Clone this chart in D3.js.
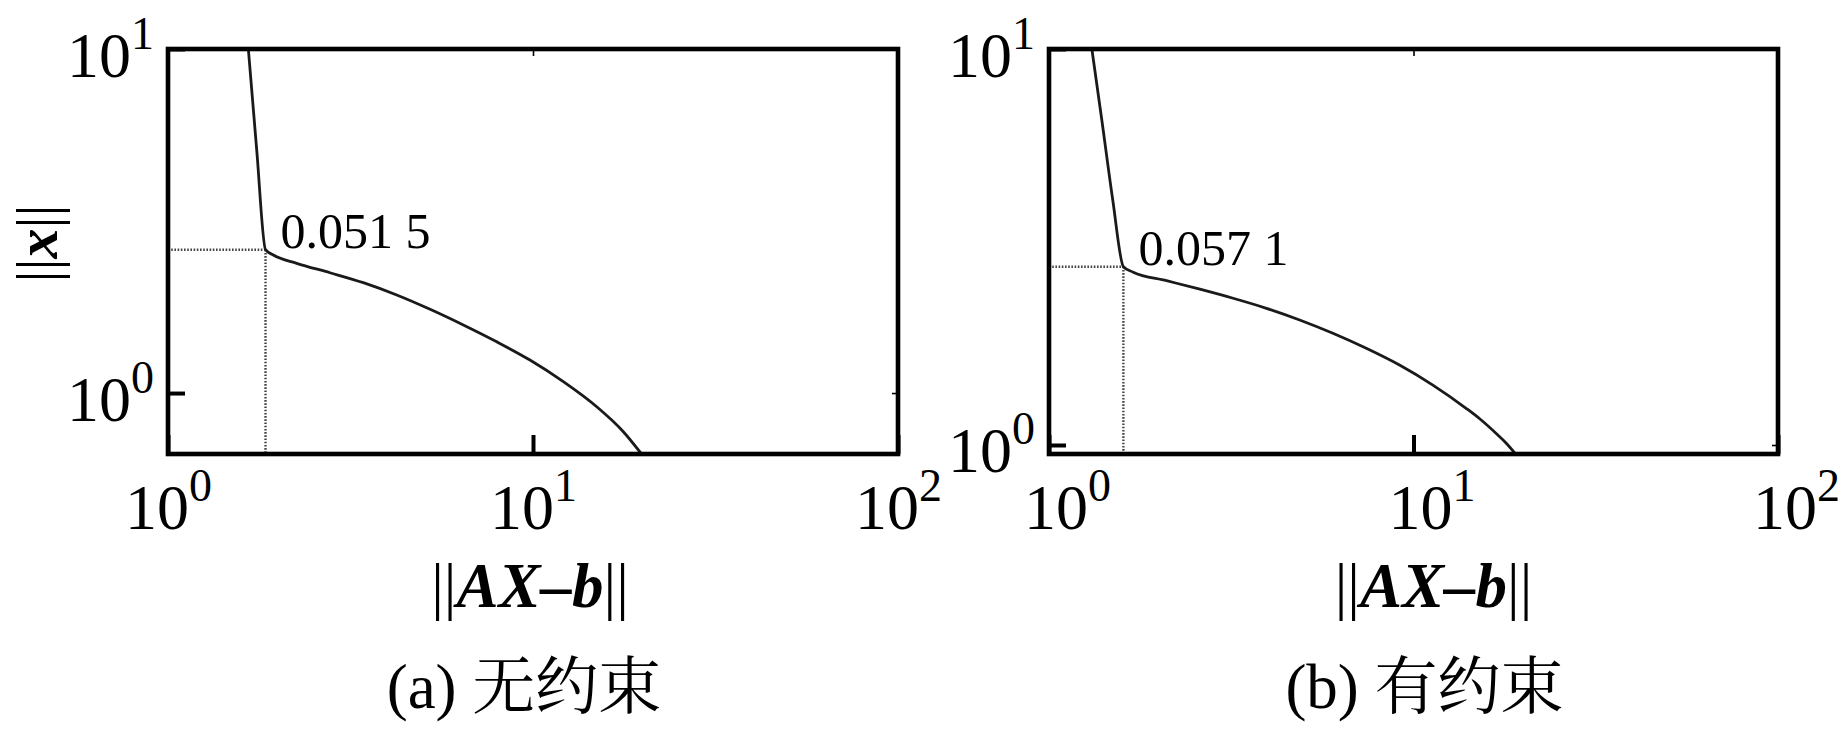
<!DOCTYPE html>
<html>
<head>
<meta charset="utf-8">
<script src="https://cdn.jsdelivr.net/npm/d3@7"></script>
<style>
  html, body { margin: 0; padding: 0; background: #fff; }
  svg { display: block; }
  text { font-family: "Liberation Serif", "Times New Roman", "Noto Serif CJK SC", "Noto Sans CJK SC", serif; fill: #000; }
</style>
</head>
<body>
<svg id="chart" width="1843" height="732"></svg>
<script>
// ---------------- data ----------------
const xTickValues = [1, 10, 100];
const yTickValues = [1, 10];
const panelCaptions = ["(a) 无约束", "(b) 有约束"];
const cornerLabels = ["0.051 5", "0.057 1"];
const xAxisTitle = ["AX", "–b"];
const yAxisTitle = "x";

// panel (a): residual norm ||AX-b|| and solution norm ||x||
const residualA = [1.66, 1.75, 1.85, 1.943, 2.252, 2.779, 3.428, 4.233, 5.224, 6.442, 7.954, 9.81, 12.11, 14.95, 17.68, 19.9];
const normA     = [10.0, 5.09, 2.61, 2.519, 2.383, 2.237, 2.093, 1.927, 1.751, 1.577, 1.409, 1.247, 1.079, 0.912, 0.772, 0.662];
const cornerA   = [1.85, 2.61];
const yDomainA  = [0.665, 10];

// panel (b)
const residualB = [1.311, 1.396, 1.496, 1.60, 1.702, 2.101, 2.593, 3.199, 3.949, 4.872, 6.010, 7.420, 9.153, 11.30, 13.94, 15.22, 16.92, 17.94, 19.1];
const normB     = [10.0, 6.62, 4.157, 2.82, 2.731, 2.600, 2.474, 2.347, 2.214, 2.069, 1.915, 1.755, 1.592, 1.417, 1.238, 1.163, 1.066, 1.012, 0.947];
const cornerB   = [1.60, 2.82];
const yDomainB  = [0.949, 10];

const xDomain = [1, 100];

// ---------------- layout ----------------
const svg = d3.select("#chart");
const plotTop = 49, plotBottom = 454;
const panels = [
  { x0: 168, x1: 898, res: residualA, nrm: normA, corner: cornerA, yDom: yDomainA,
    label: cornerLabels[0], caption: panelCaptions[0], yTitle: true,
    xLabDx: 0, titleDx: -3, capDx: -9 },
  { x0: 1049, x1: 1778, res: residualB, nrm: normB, corner: cornerB, yDom: yDomainB,
    label: cornerLabels[1], caption: panelCaptions[1], yTitle: false,
    xLabDx: 18, titleDx: 20, capDx: 11 }
];

const supLabel = (sel, base, exp, supSize, supDy) => {
  sel.text(null);
  sel.append("tspan").text(base);
  sel.append("tspan").attr("font-size", supSize).attr("dy", supDy).text(exp);
};

panels.forEach((p, i) => {
  const x = d3.scaleLog().domain(xDomain).range([p.x0, p.x1]);
  const y = d3.scaleLog().domain(p.yDom).range([plotBottom, plotTop]);
  const g = svg.append("g");

  const clipId = "clip" + i;
  svg.append("clipPath").attr("id", clipId)
    .append("rect").attr("x", p.x0).attr("y", plotTop)
    .attr("width", p.x1 - p.x0).attr("height", plotBottom - plotTop);

  // dotted guide lines at the L-curve corner
  const guides = g.append("g").attr("stroke", "#444").attr("stroke-width", 2.4)
    .attr("stroke-dasharray", "1.6,1.6").attr("fill", "none");
  guides.append("line")
    .attr("x1", x(xDomain[0])).attr("x2", x(p.corner[0]))
    .attr("y1", y(p.corner[1])).attr("y2", y(p.corner[1]));
  guides.append("line")
    .attr("x1", x(p.corner[0])).attr("x2", x(p.corner[0]))
    .attr("y1", y(p.corner[1])).attr("y2", y(p.yDom[0]));

  // the curve
  const pts = p.res.map((r, k) => [r, p.nrm[k]]);
  const line = d3.line().x(d => x(d[0])).y(d => y(d[1])).curve(d3.curveMonotoneX);
  g.append("path").datum(pts)
    .attr("clip-path", `url(#${clipId})`)
    .attr("d", line).attr("fill", "none")
    .attr("stroke", "#1a1a1a").attr("stroke-width", 2.8);

  // corner annotation
  g.append("text")
    .attr("x", x(p.corner[0]) + 15)
    .attr("y", y(p.corner[1]) - 2)
    .attr("font-size", 50)
    .text(p.label);

  // bottom axis (major ticks inward)
  const xAxis = g.append("g").attr("transform", `translate(0,${plotBottom})`)
    .call(d3.axisBottom(x).tickValues(xTickValues).tickSizeInner(-19).tickSizeOuter(0).tickFormat(""));
  xAxis.select(".domain").remove();
  xAxis.selectAll(".tick line").attr("stroke", "#000").attr("stroke-width", 4);
  xAxis.selectAll(".tick text")
    .attr("y", 75).attr("dy", null)
    .attr("dx", p.xLabDx)
    .attr("font-size", 64).attr("fill", "#000")
    .attr("font-family", '"Liberation Serif", serif')
    .each(function(d) { supLabel(d3.select(this), "10", Math.round(Math.log10(d)), 46, -28); });

  // top axis (small ticks)
  const xTop = g.append("g").attr("transform", `translate(0,${plotTop})`)
    .call(d3.axisTop(x).tickValues(xTickValues.slice(1, -1)).tickSizeInner(-7).tickSizeOuter(0).tickFormat(""));
  xTop.select(".domain").remove();
  xTop.selectAll(".tick line").attr("stroke", "#000").attr("stroke-width", 1.6);

  // left axis
  const yAxis = g.append("g").attr("transform", `translate(${p.x0},0)`)
    .call(d3.axisLeft(y).tickValues(yTickValues).tickSizeInner(-17).tickSizeOuter(0).tickFormat(""));
  yAxis.select(".domain").remove();
  yAxis.selectAll(".tick line").attr("stroke", "#000").attr("stroke-width", 4);
  yAxis.selectAll(".tick text")
    .attr("x", -14).attr("dy", null).attr("y", 27)
    .attr("text-anchor", "end")
    .attr("font-size", 64).attr("fill", "#000")
    .attr("font-family", '"Liberation Serif", serif')
    .each(function(d) { supLabel(d3.select(this), "10", Math.round(Math.log10(d)), 46, -28); });

  // right axis (small ticks)
  const yRight = g.append("g").attr("transform", `translate(${p.x1},0)`)
    .call(d3.axisRight(y).tickValues(yTickValues.slice(0, 1)).tickSizeInner(-6).tickSizeOuter(0).tickFormat(""));
  yRight.select(".domain").remove();
  yRight.selectAll(".tick line").attr("stroke", "#000").attr("stroke-width", 1.6);

  // frame
  g.append("rect")
    .attr("x", p.x0).attr("y", plotTop)
    .attr("width", p.x1 - p.x0).attr("height", plotBottom - plotTop)
    .attr("fill", "none").attr("stroke", "#000").attr("stroke-width", 4.6);

  const cx = (p.x0 + p.x1) / 2;

  // x-axis title ||AX–b||
  const xt = g.append("text")
    .attr("x", cx + p.titleDx).attr("y", 607)
    .attr("text-anchor", "middle").attr("font-size", 63);
  xt.append("tspan").text("||");
  xt.append("tspan").attr("font-weight", "bold").attr("font-style", "italic").text(xAxisTitle[0] + xAxisTitle[1]);
  xt.append("tspan").text("||");

  // caption
  g.append("text")
    .attr("x", cx + p.capDx).attr("y", 708)
    .attr("text-anchor", "middle").attr("font-size", 63)
    .text(p.caption);

  // y-axis title
  if (p.yTitle) {
    const yt = g.append("text")
      .attr("transform", `translate(57,${(plotTop + plotBottom) / 2 - 8}) rotate(-90)`)
      .attr("text-anchor", "middle").attr("font-size", 60);
    yt.append("tspan").text("||");
    yt.append("tspan").attr("font-weight", "bold").attr("font-style", "italic").text(yAxisTitle);
    yt.append("tspan").text("||");
  }
});
</script>
</body>
</html>
